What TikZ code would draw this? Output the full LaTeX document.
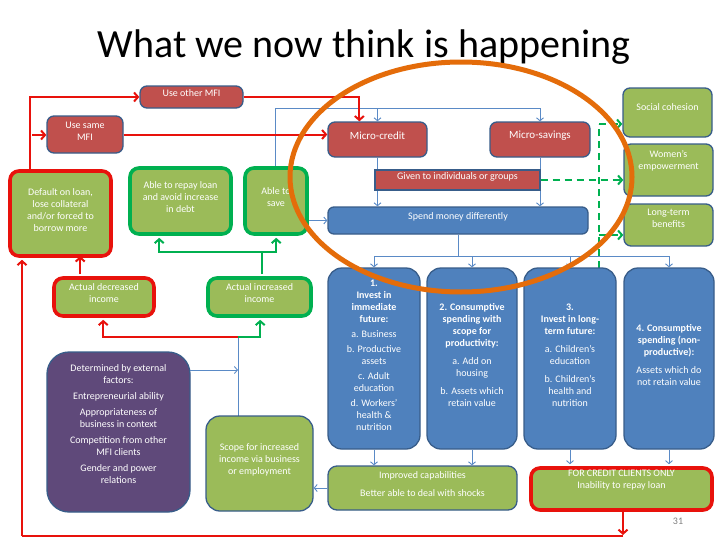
\documentclass[tikz,border=0pt]{standalone}
\usepackage{fontspec}
\setmainfont{Carlito}
\usetikzlibrary{arrows.meta,fit,calc}
\definecolor{bred}{HTML}{C0504D}
\definecolor{bgreen}{HTML}{9BBB59}
\definecolor{bblue}{HTML}{4F81BD}
\definecolor{bpurple}{HTML}{5F497A}
\definecolor{bord}{HTML}{385D8A}
\definecolor{tred}{HTML}{E8120C}
\definecolor{tgreen}{HTML}{00B050}
\definecolor{lblue}{HTML}{5A8AC6}
\definecolor{torange}{HTML}{E46C0A}
\begin{document}
\begin{tikzpicture}[x=1pt,y=-1pt,
  box/.style={draw=bord, line width=1.3pt, rounded corners=7pt, inner sep=0pt, text=white,
    font=\fontsize{10}{12}\selectfont, align=center},
  rbox/.style={box, fill=bred},
  gbox/.style={box, fill=bgreen},
  bbox/.style={box, fill=bblue, rounded corners=14pt},
  pbox/.style={box, fill=bpurple, rounded corners=22pt},
  redthick/.style={gbox, draw=tred, line width=3.6pt, rounded corners=9pt},
  greenthick/.style={gbox, draw=tgreen, line width=3.6pt, rounded corners=9pt},
  txt/.style={text=white, font=\fontsize{10}{12}\selectfont, align=center, inner sep=0pt},
  bluel/.style={draw=lblue, line width=0.9pt, -{Straight Barb[length=3pt,width=7pt]}},
  bluen/.style={draw=lblue, line width=0.9pt},
  redl/.style={draw=tred, line width=2pt, -{Straight Barb[length=4pt,width=9pt,line width=2pt]}},
  redn/.style={draw=tred, line width=2pt},
  greenl/.style={draw=tgreen, line width=2pt, -{Straight Barb[length=4pt,width=9pt,line width=2pt]}},
  greenn/.style={draw=tgreen, line width=2pt},
  greend/.style={draw=tgreen, line width=2pt, dash pattern=on 7pt off 5pt,
    -{Straight Barb[length=4pt,width=9pt,line width=2pt]}},
  greendn/.style={draw=tgreen, line width=2pt, dash pattern=on 7pt off 5pt},
]
\useasboundingbox (0,0) rectangle (728,546);
\fill[white] (0,0) rectangle (728,546);

% title
\node[anchor=base, font=\fontsize{40}{42}\selectfont, inner sep=0pt] (title) at (364,57) {What we now think is happening};

% coordinates
\coordinate (rj) at (32,135);
\coordinate (rb) at (623,536);
\coordinate (rl) at (22,536);
\coordinate (j1) at (238,337);
\coordinate (dA) at (190,370);
\coordinate (g1) at (262,252);
\coordinate (t1) at (275,108);
\coordinate (s1) at (456,256);
\coordinate (d1) at (599,268);
\coordinate (d2) at (599,124);
\coordinate (d3) at (599,235);

% connectors (behind boxes)
\draw[bluen] (t1) -- (t1 -| {(540,0)});
\draw[bluen] (j1) -- (j1 |- {(0,416)});
\draw[greendn] (d1) -- (d2);

% boxes
\node[rbox, fit={(140,86) (243,108)}] (uo) {Use other MFI};
\node[rbox, fit={(47,116) (123,153)}] (us) {Use same\\MFI};
\node[redthick, fit={(10,171) (111,256)}] (df) {Default on loan,\\lose collateral\\and/or forced to\\borrow more};
\node[greenthick, fit={(130,168) (231,234)}] (ar) {Able to repay loan\\and avoid increase\\in debt};
\node[greenthick, fit={(245,168) (307,234)}] (as) {Able to\\save};
\node[rbox, fit={(328,122) (427,157)}, font=\fontsize{11}{13}\selectfont] (mc) {Micro-credit};
\node[rbox, fit={(490,122) (590,157)}, font=\fontsize{11}{13}\selectfont] (ms) {Micro-savings};
\node[bbox, rounded corners=6pt, fit={(328,207) (588,234)}] (sp) {Spend money differently};

% blue verticals through the given box
\draw[bluen] (as.north -| t1) -- (t1);
\draw[bluel] (t1 -| mc.north) -- (mc.north);
\draw[bluel] (t1 -| ms.north) -- (ms.north);
\draw[bluel] (mc.south) -- (mc.south |- sp.north);
\draw[bluel] (ms.south) -- (ms.south |- sp.north);

\node[rbox, rounded corners=0pt, fit={(375,170) (540,190)}] (gv) {Given to individuals or groups};

\node[gbox, fit={(623,88) (712,137)}] (sc) {};
\node[txt] (scT) at (667.5,107) {Social cohesion};
\node[gbox, fit={(624,144) (713,196)}] (we) {};
\node[txt] (weT) at (668.5,161) {Women’s\\empowerment};
\node[gbox, fit={(624,204) (713,246)}] (lt) {};
\node[txt] (ltT) at (668.5,218) {Long-term\\benefits};

\node[redthick, fit={(54,278) (154,316)}] (ad) {Actual decreased\\income};
\node[greenthick, fit={(208,278) (311,316)}] (ai) {Actual increased\\income};

\node[pbox, fit={(47,352) (190,512)}] (de) {};
\node[txt] (deT) at (118.5,424.5) {Determined by external\\factors:\\[4pt]Entrepreneurial ability\\[4pt]Appropriateness of\\business in context\\[4pt]Competition from other\\MFI clients\\[4pt]Gender and power\\relations};
\node[gbox, rounded corners=14pt, fit={(206,416) (313,511)}] (so) {Scope for increased\\income via business\\or employment};

\node[bbox, fit={(328,268) (420,449)}] (b1) {\textbf{1.}\\\textbf{Invest in}\\\textbf{immediate}\\\textbf{future:}\\[3pt]a. Business\\[3pt]b. Productive\\assets\\[3pt]c. Adult\\education\\[3pt]d. Workers’\\health \&\\nutrition};
\node[bbox, fit={(427,268) (517,449)}] (b2) {\textbf{2. Consumptive}\\\textbf{spending with}\\\textbf{scope for}\\\textbf{productivity:}\\[6pt]a. Add on\\housing\\[6pt]b. Assets which\\retain value};
\node[bbox, fit={(524,268) (616,449)}] (b3) {\textbf{3.}\\\textbf{Invest in long-}\\\textbf{term future:}\\[6pt]a. Children’s\\education\\[6pt]b. Children’s\\health and\\nutrition};
\node[bbox, fit={(624,268) (714,449)}] (b4) {\textbf{4. Consumptive}\\\textbf{spending (non-}\\\textbf{productive):}\\[6pt]Assets which do\\not retain value};

\node[gbox, rounded corners=9pt, fit={(328,466) (517,510)}] (ic) {Improved capabilities\\[6pt]Better able to deal with shocks};
\node[redthick, fit={(531,468) (712,510)}] (fc) {};
\node[txt] (fcT) at (621.5,480.5) {FOR CREDIT CLIENTS ONLY\\Inability to repay loan};

\node[text=gray, font=\fontsize{10}{12}\selectfont, inner sep=0pt] (pg) at (678,521) {31};

% red connectors
\draw[redl] ($(df.north west)+(22,0)$) |- (uo.west);
\draw[redl] (rj) -- (rj -| us.west);
\draw[redl] (uo.east) -| ($(mc.north west)+(32,0)$);
\draw[redl] (us.east) -- (us.east -| mc.west);
\draw[redn] (rb) -- (rl);
\draw[redl] (fc.south -| rb) -- ($(rb)+(0,-1)$);
\draw[redl] (rl) -- ($(rl |- df.south)+(0,2)$);
\draw[redl] ($(ad.north west)+(28,-2)$) -- ($(ad.north west)+(28,-20)$);
\draw[redl] (j1) -| ($(ad.south west)+(51,2)$);

% green connectors
\draw[greenl] (j1) -| ($(ai.south west)+(54,2)$);
\draw[greenn] ($(ai.north -| g1)+(0,-2)$) -- (g1);
\draw[greenl] (g1) -| ($(ar.south west)+(31,2)$);
\draw[greenl] (g1) -| ($(as.south west)+(33,2)$);

% blue connectors
\draw[bluel] (dA) -- (dA -| j1);
\draw[bluel] (as.east |- sp.west) -- (sp.west);
\draw[bluen] (sp.south) -- (sp.south |- s1);
\draw[bluen] (b1.north |- s1) -- (b4.north |- s1);
\foreach \b in {b1,b2,b3,b4} \draw[bluel] (\b.north |- s1) -- (\b.north);
\draw[bluel] (b1.south) -- (b1.south |- ic.north);
\draw[bluel] (b2.south) -- (b2.south |- ic.north);
\draw[bluel] (b3.south) -- ($(b3.south |- fc.north)+(0,-2)$);
\draw[bluel] (b4.south) -- ($(b4.south |- fc.north)+(0,-2)$);
\draw[bluel] (ic.west) -- (ic.west -| so.east);

% green dashed
\draw[greend] (d2) -- (d2 -| sc.west);
\draw[greend] (gv.east) -- (gv.east -| we.west);
\draw[greend] (d3) -- (d3 -| lt.west);

% orange ellipse
\draw[torange, line width=5pt] (461,177) ellipse [x radius=171pt, y radius=115pt];
\end{tikzpicture}
\end{document}
